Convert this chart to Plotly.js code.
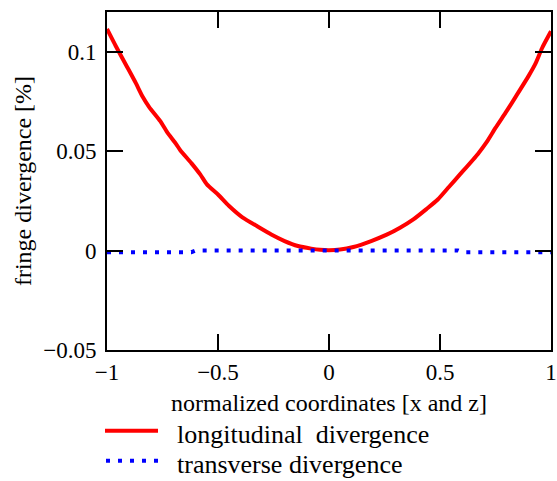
<!DOCTYPE html>
<html>
<head>
<meta charset="utf-8">
<script src="https://cdn.plot.ly/plotly-3.0.1.min.js"></script>
<style>html,body{margin:0;padding:0;background:#fff;}#chart{width:557px;height:481px;}</style>
</head>
<body>
<div id="chart"></div>
<script>
const longX = [-1, -0.96, -0.91, -0.87, -0.84, -0.81, -0.76, -0.73, -0.69, -0.67, -0.62, -0.58, -0.55, -0.50, -0.45, -0.39, -0.32, -0.26, -0.20, -0.14, -0.08, -0.04, 0, 0.05, 0.11, 0.19, 0.26, 0.32, 0.38, 0.44, 0.49, 0.54, 0.59, 0.67, 0.71, 0.75, 0.80, 0.84, 0.90, 0.93, 0.96, 1];
const longY = [0.1115, 0.1028, 0.0925, 0.0842, 0.0775, 0.0722, 0.0651, 0.0597, 0.0538, 0.0505, 0.0440, 0.0383, 0.0333, 0.0282, 0.0224, 0.0167, 0.0120, 0.0081, 0.0048, 0.0023, 0.0010, 0.0004, 0.0002, 0.0005, 0.0018, 0.0048, 0.0080, 0.0115, 0.0157, 0.0210, 0.0257, 0.0320, 0.0383, 0.0485, 0.0545, 0.0617, 0.0701, 0.0772, 0.0880, 0.0940, 0.1019, 0.1103];
const transX = [-1, -0.8, -0.62, -0.6, -0.4, -0.2, 0, 0.2, 0.4, 0.58, 0.6, 0.8, 1];
const transY = [-0.0008, -0.0008, -0.0008, 0.0001, 0.0002, 0.0002, 0.0002, 0.0002, 0.0001, 0.0001, -0.0008, -0.0008, -0.0008];
const xTickVals = [-1, -0.5, 0, 0.5, 1];
const xTickText = ["\u22121", "\u22120.5", "0", "0.5", "1"];
const yTickVals = [-0.05, 0, 0.05, 0.1];
const yTickText = ["\u22120.05", "0", "0.05", "0.1"];
const seriesNames = ["longitudinal\u00a0 divergence", "transverse divergence"];

const font = "Liberation Serif, Times New Roman, serif";
const traces = [
  {x: longX, y: longY, mode: "lines", name: seriesNames[0], line: {color: "#ff0000", width: 4, shape: "spline", smoothing: 0.6}, showlegend: false},
  {x: transX, y: transY, mode: "lines", name: seriesNames[1], line: {color: "#0000ff", width: 4, dash: "4px,8px"}, showlegend: false}
];
const W = 444, H = 338; // plot size in px for paper conversion
const px = v => (v - 107) / W;
const py = v => (350 - v) / H;
const layout = {
  width: 557, height: 481,
  margin: {l: 107, r: 6, t: 12, b: 131},
  paper_bgcolor: "#fff", plot_bgcolor: "#fff",
  font: {family: font, color: "#000", size: 23},
  showlegend: false,
  xaxis: {
    range: [-1, 1], tickvals: xTickVals, ticktext: xTickText,
    ticks: "inside", ticklen: 16, tickwidth: 2, tickcolor: "#000",
    showline: true, linewidth: 2, linecolor: "#000", mirror: "ticks",
    showgrid: false, zeroline: false,
    tickfont: {size: 23, family: font},
    title: {text: "normalized coordinates [x and z]", font: {size: 24, family: font}, standoff: 11}
  },
  yaxis: {
    range: [-0.05, 0.12], tickvals: yTickVals, ticktext: yTickText,
    ticks: "inside", ticklen: 16, tickwidth: 2, tickcolor: "#000",
    showline: true, linewidth: 2, linecolor: "#000", mirror: "ticks",
    showgrid: false, zeroline: false, ticklabelstandoff: 4,
    tickfont: {size: 23, family: font},
    title: {text: "fringe divergence [%]", font: {size: 24, family: font}, standoff: 5}
  },
  shapes: [
    {type: "line", xref: "paper", yref: "paper", x0: px(105), x1: px(158), y0: py(430.7), y1: py(430.7), line: {color: "#ff0000", width: 4}},
    {type: "line", xref: "paper", yref: "paper", x0: px(106), x1: px(158), y0: py(460.7), y1: py(460.7), line: {color: "#0000ff", width: 4, dash: "4px,8px"}}
  ],
  annotations: [
    {xref: "paper", yref: "paper", x: px(175), y: py(434), xanchor: "left", yanchor: "middle", showarrow: false, text: seriesNames[0], font: {size: 26, family: font}},
    {xref: "paper", yref: "paper", x: px(175), y: py(464), xanchor: "left", yanchor: "middle", showarrow: false, text: seriesNames[1], font: {size: 26, family: font}}
  ]
};
Plotly.newPlot("chart", traces, layout, {staticPlot: true, displayModeBar: false});
</script>
</body>
</html>
